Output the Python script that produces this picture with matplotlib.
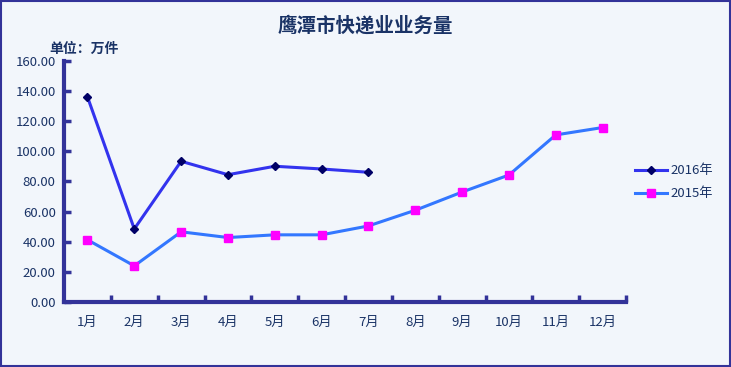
import matplotlib.pyplot as plt
from matplotlib.patches import Rectangle

plt.rcParams['font.family'] = ['Noto Sans CJK SC', 'DejaVu Sans']

months = ['1月', '2月', '3月', '4月', '5月', '6月', '7月', '8月', '9月', '10月', '11月', '12月']
sales_2016 = [136.2, 48.5, 93.4, 84.5, 90.1, 88.3, 86.1]
sales_2015 = [41.3, 24.0, 46.6, 42.8, 44.6, 44.6, 50.5, 60.9, 73.0, 84.3, 110.9, 115.8]
y_ticks = [0, 20, 40, 60, 80, 100, 120, 140, 160]

bg = '#f2f6fb'
axis_color = '#333399'
text_color = '#1a3366'

fig = plt.figure(figsize=(7.31, 3.67), dpi=100, facecolor=bg)
# 외곽 테두리
fig.patches.append(Rectangle((0.001, 0.002), 0.997, 0.995, transform=fig.transFigure,
                             fill=False, edgecolor=axis_color, linewidth=1.5))

ax = fig.add_axes([0.0876, 0.177, 0.7688, 0.657])
ax.set_facecolor(bg)

x16 = list(range(len(sales_2016)))
x15 = list(range(len(sales_2015)))
ax.plot(x16, sales_2016, color='#3333ee', linewidth=2.2, marker='D', markersize=4.5,
        markerfacecolor='#000066', markeredgecolor='#000066', label='2016年')
ax.plot(x15, sales_2015, color='#3377ff', linewidth=2.2, marker='s', markersize=5.5,
        markerfacecolor='#ff00ff', markeredgecolor='#ff00ff', label='2015年')

ax.set_xlim(-0.5, len(months) - 0.5)
ax.set_ylim(0, 160)
ax.set_yticks(y_ticks)
ax.set_yticklabels([f'{v:.2f}' for v in y_ticks], color=text_color, fontsize=9.5)
ax.set_xticks(range(len(months)))
ax.set_xticklabels(months, color=text_color, fontsize=9.5)
ax.set_xticks([i + 0.5 for i in range(len(months))], minor=True)

ax.tick_params(axis='x', which='major', length=0, pad=10)
ax.tick_params(axis='x', which='minor', direction='in', length=5, width=2.5, color=axis_color)
ax.tick_params(axis='y', direction='in', length=5, width=2.5, color=axis_color, pad=6)

for side in ['top', 'right']:
    ax.spines[side].set_visible(False)
for side in ['left', 'bottom']:
    ax.spines[side].set_linewidth(3)
    ax.spines[side].set_color(axis_color)

fig.text(0.5, 0.93, '鹰潭市快递业业务量', ha='center', va='center',
         fontsize=14, fontweight='bold', color=text_color)
fig.text(0.068, 0.868, '单位：万件', ha='left', va='center',
         fontsize=10, fontweight='bold', color=text_color)

ax.legend(loc='center left', bbox_to_anchor=(1.0, 0.496), frameon=False,
          fontsize=9.5, labelcolor=text_color, handlelength=2.4, handletextpad=0.3,
          labelspacing=0.75, borderaxespad=0.3)

fig.savefig('out.png', dpi=100, facecolor=bg)
